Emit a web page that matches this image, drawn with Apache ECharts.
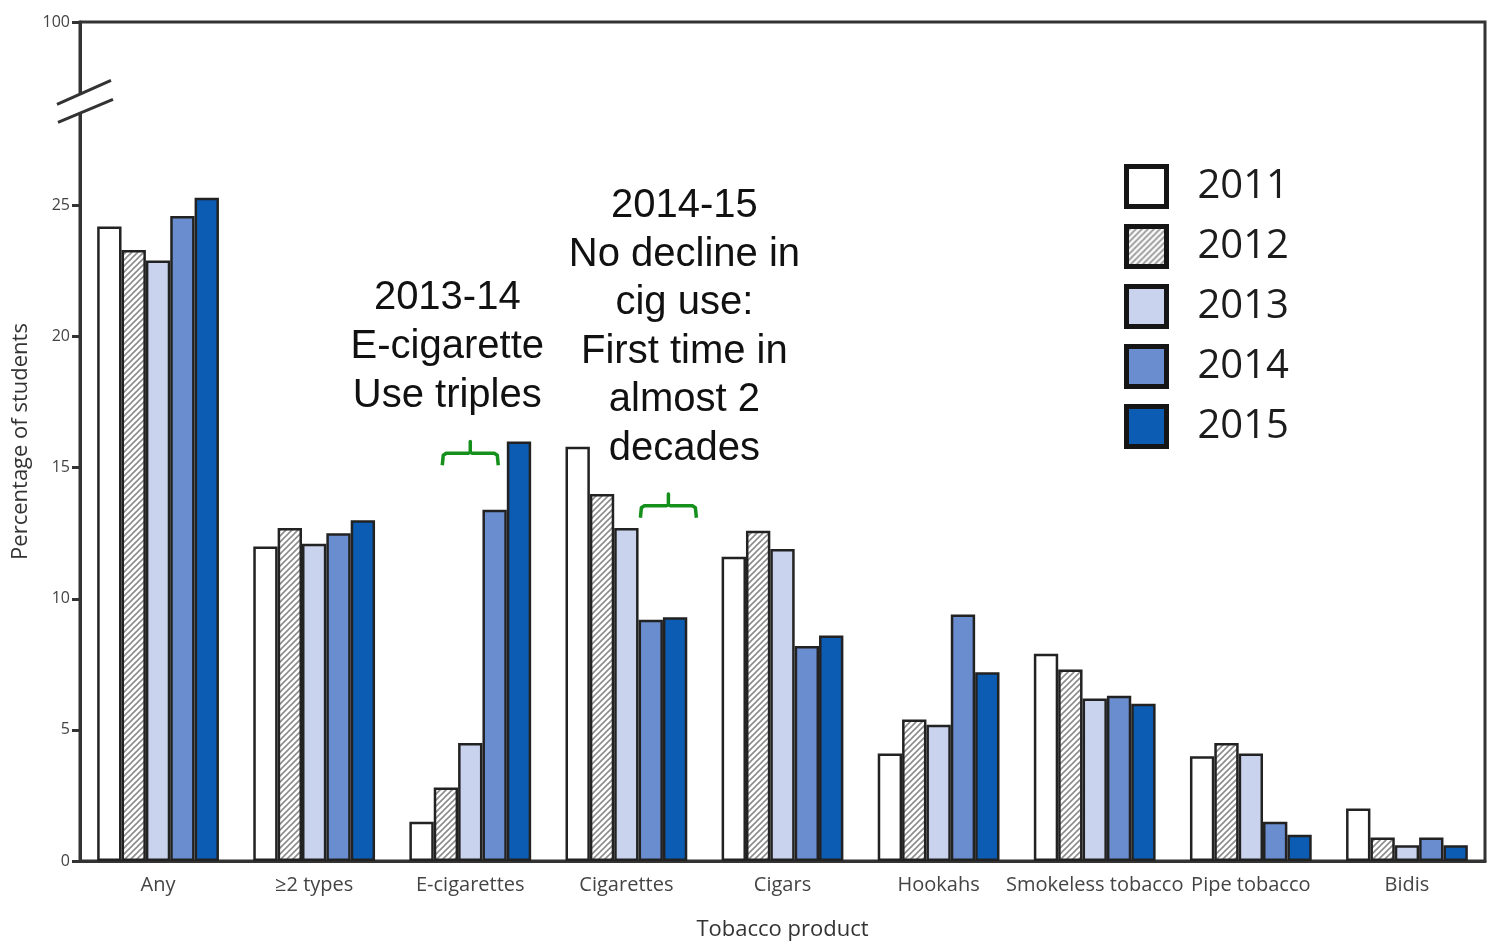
<!DOCTYPE html>
<html>
<head>
<meta charset="utf-8">
<title>Tobacco product use among high school students, 2011-2015</title>
<script src="https://cdn.jsdelivr.net/npm/echarts@6/dist/echarts.min.js"></script>
<style>
  html, body { margin: 0; padding: 0; background: #fff; }
  #chart { width: 1489px; height: 944px; }
</style>
</head>
<body>
<div id="chart"></div>
<script>
const categories = ['Any', '≥2 types', 'E-cigarettes', 'Cigarettes', 'Cigars', 'Hookahs', 'Smokeless tobacco', 'Pipe tobacco', 'Bidis']
const years = ['2011', '2012', '2013', '2014', '2015']
const values2011 = [24.2, 12.0, 1.5, 15.8, 11.6, 4.1, 7.9, 4.0, 2.0]
const values2012 = [23.3, 12.7, 2.8, 14.0, 12.6, 5.4, 7.3, 4.5, 0.9]
const values2013 = [22.9, 12.1, 4.5, 12.7, 11.9, 5.2, 6.2, 4.1, 0.6]
const values2014 = [24.6, 12.5, 13.4, 9.2, 8.2, 9.4, 6.3, 1.5, 0.9]
const values2015 = [25.3, 13.0, 16.0, 9.3, 8.6, 7.2, 6.0, 1.0, 0.6]
// the axis is broken above 25, the top of the frame stands for 100
const yTicks = [0, 5, 10, 15, 20, 25, 32]
const yTickLabels = ['0', '5', '10', '15', '20', '25', '100']

const gridLeft = 80
const labelFont = '"Open Sans", "Noto Sans", sans-serif'
const noteFont = '"Liberation Sans", Arial, sans-serif'

// diagonal hatching for 2012
const hatch = document.createElement('canvas')
hatch.width = 6
hatch.height = 6
const hctx = hatch.getContext('2d')
hctx.fillStyle = '#fff'
hctx.fillRect(0, 0, 6, 6)
hctx.strokeStyle = '#8c8c8c'
hctx.lineWidth = 1.6
hctx.beginPath()
hctx.moveTo(0, 6); hctx.lineTo(6, 0)
hctx.moveTo(-3, 3); hctx.lineTo(3, -3)
hctx.moveTo(3, 9); hctx.lineTo(9, 3)
hctx.stroke()

const fills = ['#ffffff', { image: hatch, repeat: 'repeat' }, '#c9d3ee', '#6a8dcf', '#0b5cb2']
const seriesValues = [values2011, values2012, values2013, values2014, values2015]

const chart = echarts.init(document.getElementById('chart'))

const option = {
  animation: false,
  grid: {
    left: gridLeft,
    right: 4,
    top: 22,
    bottom: 83,
    outerBoundsMode: 'none',
    containLabel: false,
    show: true,
    borderColor: '#333',
    borderWidth: 3
  },
  legend: {
    orient: 'vertical',
    left: 1124,
    top: 164,
    padding: 0,
    itemWidth: 40,
    itemHeight: 40,
    itemGap: 15,
    icon: 'rect',
    itemStyle: { borderColor: '#151515', borderWidth: 5 },
    textStyle: {
      fontFamily: labelFont,
      fontSize: 40,
      lineHeight: 40,
      color: '#1c1c1c',
      padding: [0, 0, 0, 26]
    },
    data: years
  },
  xAxis: {
    type: 'category',
    data: categories,
    name: 'Tobacco product',
    nameLocation: 'middle',
    nameGap: 58,
    nameTextStyle: { fontFamily: labelFont, fontSize: 22, color: '#333' },
    axisLine: { lineStyle: { color: '#333', width: 3 } },
    axisTick: { alignWithLabel: true, length: 8, lineStyle: { color: '#333', width: 3 } },
    axisLabel: { fontFamily: labelFont, fontSize: 20, color: '#444', margin: 14, interval: 0 }
  },
  yAxis: {
    type: 'value',
    min: 0,
    max: 32,
    name: 'Percentage of students',
    nameLocation: 'middle',
    nameGap: 47,
    nameTextStyle: { fontFamily: labelFont, fontSize: 22, color: '#333' },
    axisLine: { show: true, lineStyle: { color: '#333', width: 3 } },
    axisTick: { show: true, customValues: yTicks, length: 8, lineStyle: { color: '#333', width: 3 } },
    axisLabel: {
      customValues: yTicks,
      fontFamily: labelFont,
      fontSize: 16,
      color: '#444',
      margin: 10,
      formatter: v => yTickLabels[yTicks.indexOf(v)]
    },
    splitLine: { show: false }
  },
  series: years.map((y, i) => ({
    name: y,
    type: 'bar',
    data: seriesValues[i],
    barGap: '0%',
    barCategoryGap: '22%',
    itemStyle: { color: fills[i], borderColor: '#222', borderWidth: 2.5 }
  }))
}

chart.setOption(option)

// axis break, brackets and notes, placed through the axes
const px = (cat, val) => chart.convertToPixel({ xAxisIndex: 0, yAxisIndex: 0 }, [cat, val])
const yb = chart.convertToPixel({ yAxisIndex: 0 }, 28.9)

const bracket = (cx, yTop, yBase) => ({
  type: 'polyline',
  shape: {
    points: [
      [cx - 28, yBase + 12], [cx - 27, yBase + 2], [cx - 24, yBase],
      [cx - 2, yBase], [cx, yBase - 1], [cx, yTop], [cx, yBase - 1], [cx + 2, yBase],
      [cx + 24, yBase], [cx + 27, yBase + 2], [cx + 28, yBase + 12]
    ]
  },
  style: { stroke: '#15901c', lineWidth: 3.5, fill: null, lineJoin: 'round' },
  z: 10
})

const b1 = px('E-cigarettes', 16.0)
const b1base = px('E-cigarettes', 15.55)[1]
const b2 = px('Cigarettes', 14.0)
const b2base = px('Cigarettes', 13.55)[1]

chart.setOption({
  graphic: [
    { type: 'rect', shape: { x: gridLeft - 4, y: yb - 9, width: 8, height: 19 }, style: { fill: '#fff' }, z: 20 },
    { type: 'line', shape: { x1: gridLeft - 23, y1: yb + 1, x2: gridLeft + 31, y2: yb - 23 }, style: { stroke: '#333', lineWidth: 3 }, z: 21 },
    { type: 'line', shape: { x1: gridLeft - 22, y1: yb + 19, x2: gridLeft + 33, y2: yb - 4 }, style: { stroke: '#333', lineWidth: 3 }, z: 21 },
    bracket(b1[0], b1[1], b1base),
    bracket(b2[0] + 42, b2[1], b2base),
    {
      type: 'text',
      x: b1[0] - 23,
      y: 273,
      style: {
        text: '2013-14\nE-cigarette\nUse triples',
        font: '40px ' + noteFont,
        fill: '#111',
        align: 'center',
        lineHeight: 49
      },
      z: 10
    },
    {
      type: 'text',
      x: b2[0] + 58,
      y: 182,
      style: {
        text: '2014-15\nNo decline in\ncig use:\nFirst time in\nalmost 2\ndecades',
        font: '40px ' + noteFont,
        fill: '#111',
        align: 'center',
        lineHeight: 48.5
      },
      z: 10
    }
  ]
})

window.addEventListener('resize', () => chart.resize())
</script>
</body>
</html>
